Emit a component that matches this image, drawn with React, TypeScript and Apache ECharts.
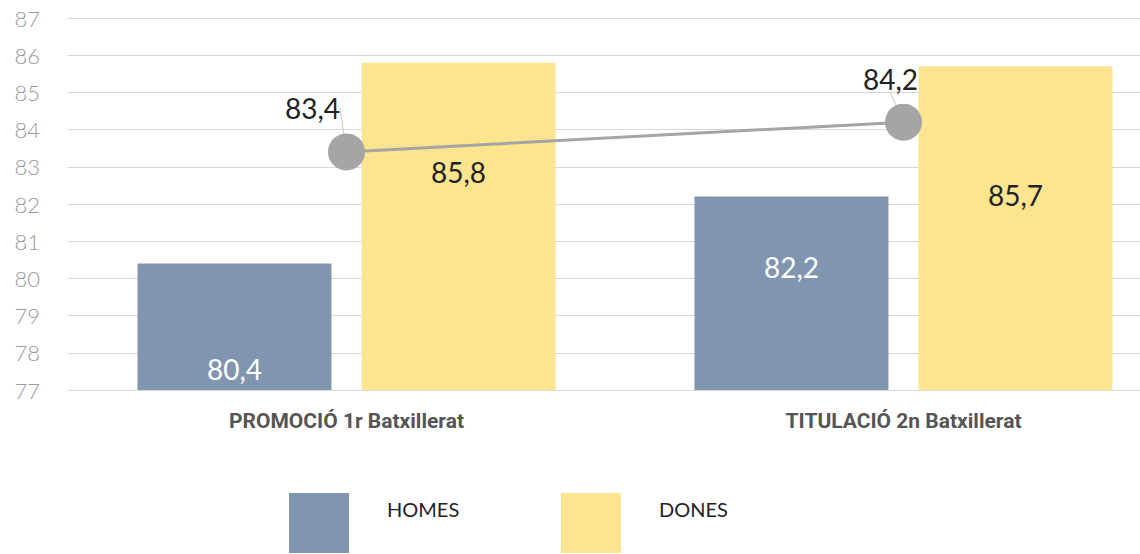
import React, { useEffect, useRef } from "react";
import * as echarts from "echarts";

const categories = ["PROMOCIÓ 1r Batxillerat", "TITULACIÓ 2n Batxillerat"];
const homes = [80.4, 82.2];
const dones = [85.8, 85.7];
const total = [83.4, 84.2];
const homesLabelOffsets = [105, 70];
const donesLabelOffsets = [109, 129];
const legendNames = ["HOMES", "DONES"];

const fmt = (v: number) => v.toFixed(1).replace(".", ",");

const legendFor = (name: string, left: number) => ({
  left,
  top: 493,
  padding: 0,
  itemWidth: 60,
  itemHeight: 60,
  icon: "rect",
  data: [name],
  formatter: (n: string) => `{a|${n}}`,
  textStyle: {
    rich: {
      a: {
        fontFamily: "Lato",
        fontSize: 20,
        color: "#222",
        padding: [0, 0, 28, 33],
      },
    },
  },
});

export default function App() {
  const ref = useRef<HTMLDivElement>(null);
  useEffect(() => {
    if (!ref.current) return;
    const chart = echarts.init(ref.current, null, { renderer: "svg" });
    chart.setOption({
      animation: false,
      backgroundColor: "#ffffff",
      grid: { left: 68, top: 18, width: 1114, bottom: 164 },
      legend: [legendFor(legendNames[0], 289), legendFor(legendNames[1], 561)],
      xAxis: {
        type: "category",
        data: categories,
        axisLine: { show: false },
        axisTick: { show: false },
        axisLabel: {
          margin: 20,
          fontFamily: "Roboto",
          fontWeight: "bold",
          fontSize: 21,
          color: "#555",
        },
      },
      yAxis: {
        type: "value",
        min: 77,
        max: 87,
        interval: 1,
        axisLine: { show: false },
        axisTick: { show: false },
        axisLabel: {
          margin: 28,
          fontFamily: "Lato",
          fontWeight: 300,
          fontSize: 22,
          color: "#9a9a9a",
        },
        splitLine: { lineStyle: { color: "#d9d9d9", width: 1 } },
      },
      series: [
        {
          name: "HOMES",
          type: "bar",
          barWidth: 194,
          barGap: "15.5%",
          itemStyle: { color: "#8096b0" },
          data: homes.map((v, i) => ({
            value: v,
            label: {
              show: true,
              position: ["50%", homesLabelOffsets[i]],
              align: "center",
              verticalAlign: "middle",
              formatter: () => fmt(v),
              fontFamily: "Lato",
              fontSize: 28,
              color: "#ffffff",
            },
          })),
        },
        {
          name: "DONES",
          type: "bar",
          barWidth: 194,
          barGap: "15.5%",
          itemStyle: { color: "#fde48f" },
          data: dones.map((v, i) => ({
            value: v,
            label: {
              show: true,
              position: ["50%", donesLabelOffsets[i]],
              align: "center",
              verticalAlign: "middle",
              formatter: () => fmt(v),
              fontFamily: "Lato",
              fontSize: 28,
              color: "#222",
            },
          })),
        },
        {
          name: "TOTAL",
          type: "line",
          data: total,
          symbol: "circle",
          symbolSize: 37,
          z: 5,
          lineStyle: { color: "#a5a5a5", width: 3 },
          itemStyle: { color: "#a5a5a5" },
          label: {
            show: true,
            position: "top",
            formatter: (p: any) => fmt(p.value),
            fontFamily: "Lato",
            fontSize: 28,
            color: "#222",
          },
          labelLayout: (p: any) => ({ dx: p.dataIndex === 0 ? -34 : -13, dy: -6 }),
          labelLine: { show: true, lineStyle: { color: "#c8c8c8", width: 1 } },
        },
      ],
    });
    return () => chart.dispose();
  }, []);
  return (
    <div
      ref={ref}
      style={{ position: "fixed", left: 0, top: 0, width: 1200, height: 554 }}
    />
  );
}
